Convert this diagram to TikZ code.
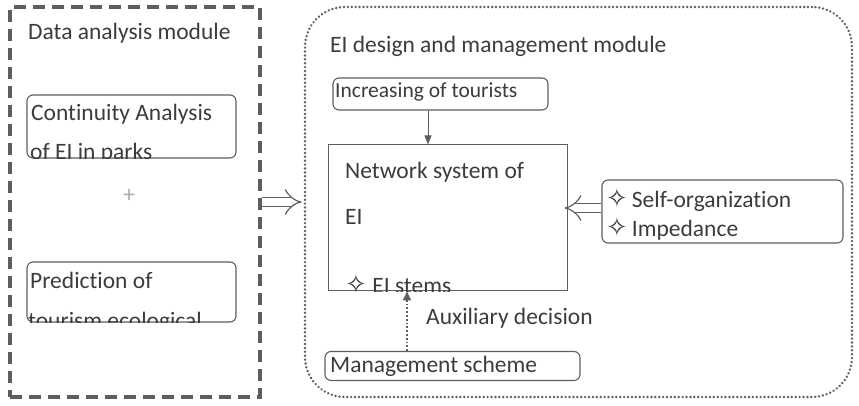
\documentclass[tikz,border=0pt]{standalone}
\usepackage{fontspec}
\setmainfont{Carlito}[RawFeature={-liga}]
\newfontfamily\symfont{DejaVu Sans}
\usetikzlibrary{arrows.meta}
\definecolor{txt}{HTML}{3C3C3C}
\definecolor{ln}{HTML}{5E5E5E}
\newcommand{\st}{{\symfont\fontsize{26}{26}\selectfont ✧}}
\tikzset{
  every node/.style={text=txt, font=\fontsize{23.5}{26}\selectfont},
  boxr/.style={draw=ln, line width=1.1pt, rounded corners=6pt, inner sep=0pt},
  boxs/.style={draw=ln, line width=1pt, inner sep=0pt},
  lbl/.style={anchor=west, inner sep=0pt},
  hollow/.style={draw=ln, line width=1.2pt, double=white, double distance=8pt, -{Implies}},
  solidarr/.style={draw=ln, line width=1pt, -{Triangle[length=9pt,width=7pt]}},
  dotarr/.style={draw=ln, line width=1.8pt, dotted, -{Triangle[length=9pt,width=8pt]}}
}
\begin{document}
\begin{tikzpicture}[x=1pt,y=1pt]
\useasboundingbox (0,0) rectangle (859,406);
% modules
\node[draw=ln, line width=3.2pt, dash pattern=on 12pt off 7pt, minimum width=250pt, minimum height=390pt, inner sep=0pt] (left) at (135,204) {};
\node[draw=ln, line width=2.6pt, dash pattern=on 0.1pt off 3.8pt, line cap=round, rounded corners=40pt, minimum width=547pt, minimum height=390pt, inner sep=0pt] (right) at (578.5,204) {};
\node[lbl] (lt) at (28,373) {Data analysis module};
\node[lbl] (rt) at (330,360) {EI design and management module};
% left inner boxes
\node[boxr, minimum width=209pt, minimum height=63pt] (cont) at (131.5,279.5) {};
\begin{scope}
\clip (cont.south west) rectangle (cont.north east);
\node[lbl] (c1) at (31,292) {Continuity Analysis};
\node[lbl] (c2) at (30,253) {of EI in parks};
\end{scope}
\node[text=ln!50, font=\fontsize{24}{24}\selectfont] (plus) at (129,210) {+};
\node[boxr, minimum width=209pt, minimum height=60pt] (pred) at (131.5,114) {};
\begin{scope}
\clip (pred.south west) rectangle (pred.north east);
\node[lbl] (p1) at (30,126) {Prediction of};
\node[lbl] (p2) at (28,84) {tourism ecological};
\end{scope}
% right inner boxes
\node[boxr, minimum width=215pt, minimum height=32pt] (inc) at (440.5,312) {};
\node[lbl, font=\fontsize{21.5}{24}\selectfont] (inct) at (335,314) {Increasing of tourists};
\node[boxs, minimum width=239pt, minimum height=146pt] (net) at (447.5,188) {};
\node[lbl] (n1) at (345,234) {Network system of};
\node[lbl] (n2) at (345,189) {EI};
\begin{scope}
\clip (net.south west) rectangle (net.north east);
\node[lbl] (n3) at (345,122) {\st\ EI stems};
\end{scope}
\node[boxr, minimum width=241pt, minimum height=63pt] (self) at (722.5,194.5) {};
\node[lbl] (s1) at (606,206) {\st\,Self-organization};
\node[lbl] (s2) at (606,177) {\st\,Impedance};
\node[boxr, minimum width=255pt, minimum height=29pt] (man) at (452.5,40) {};
\node[lbl] (mt) at (330,40) {Management scheme};
\node[lbl] (aux) at (426,88) {Auxiliary decision};
% connectors
\draw[hollow] (left.east |- 0,204) -- ([xshift=-2pt]right.west |- 0,204);
\draw[hollow] (self.west |- 0,198) -- ([xshift=-3pt]net.east |- 0,198);
\draw[solidarr] (inc.south -| 428,0) -- (net.north -| 428,0);
\draw[dotarr] (man.north -| 407,0) -- (net.south -| 407,0);
\end{tikzpicture}
\end{document}
